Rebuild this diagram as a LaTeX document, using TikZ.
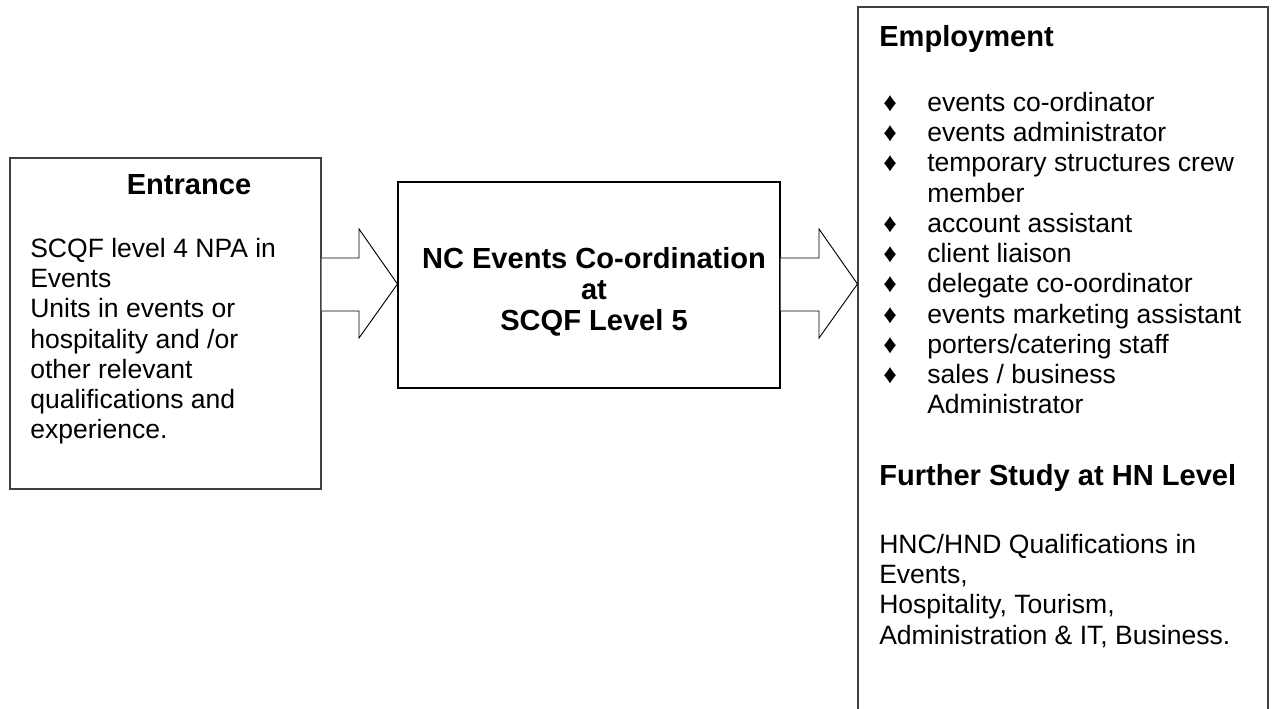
\documentclass[tikz,border=0pt]{standalone}
\usepackage{fontspec}
\setmainfont{Liberation Sans}
\usetikzlibrary{fit}
% strut that fixes the top of a text block 18pt above its first baseline
\newcommand\lnstrut{\rule{0pt}{18pt}}
\newcommand\bul{\makebox[33pt][l]{♦}}
\newcommand\ind{\hspace*{33pt}}
\tikzset{
  boxline/.style={draw=black!75, line width=0.8pt, inner sep=0pt, fill=none},
  midline/.style={draw=black, line width=0.8pt, inner sep=0pt},
  blockarrow/.style={draw=black, line width=0.7pt, line join=miter, fill=white},
  headtext/.style={inner sep=0pt, font=\fontsize{21.8pt}{23.2pt}\selectfont\bfseries},
  bodytext/.style={inner sep=0pt, align=left, font=\fontsize{19.9pt}{22.7pt}\selectfont},
}
\begin{document}
\begin{tikzpicture}[x=0.75pt, y=-0.75pt]
\useasboundingbox (0,0) rectangle (1275,709);
\clip (0,0) rectangle (1275,709);

% corners of the three boxes
\coordinate (e1) at (10,158);  \coordinate (e2) at (321,489);
\coordinate (m1) at (398,182); \coordinate (m2) at (780,388);
\coordinate (r1) at (858,7);   \coordinate (r2) at (1268,720);

\node[boxline, fit=(e1)(e2)] (entry) {};
\node[midline, fit=(m1)(m2)] (course) {};
\node[boxline, fit=(r1)(r2)] (outcome) {};

% levels of the block arrows
\coordinate (shafttop) at (0,258);
\coordinate (shaftbot) at (0,311);
\coordinate (headtop)  at (0,229);
\coordinate (headbot)  at (0,338);
\coordinate (tipline)  at (0,284);
\coordinate (neckL) at (359,0);
\coordinate (neckR) at (819,0);

% block arrow: Entrance -> course
\draw[blockarrow] (entry.east |- shafttop) -- (neckL |- shafttop) -- (neckL |- headtop)
  -- (course.west |- tipline) -- (neckL |- headbot) -- (neckL |- shaftbot)
  -- (entry.east |- shaftbot);
% block arrow: course -> outcomes
\draw[blockarrow] (course.east |- shafttop) -- (neckR |- shafttop) -- (neckR |- headtop)
  -- (outcome.west |- tipline) -- (neckR |- headbot) -- (neckR |- shaftbot)
  -- (course.east |- shaftbot);

% Entrance box
\node[headtext, anchor=base] (entryhead) at (189,195) {Entrance};
\node[bodytext, anchor=north west] (entrybody) at (30,233) {\lnstrut SCQF level 4 NPA in\\
Events\\
Units in events or\\
hospitality and /or\\
other relevant\\
qualifications and\\
experience.};

% course box
\node[headtext, align=center, anchor=north] (coursename) at (594,244)
  {\lnstrut NC Events Co-ordination\\ at\\ SCQF Level 5};

% outcomes box
\node[headtext, anchor=base west] (emphead) at (879,47) {Employment};
\node[bodytext, anchor=north west] (emplist) at (883,87) {\lnstrut\bul events co-ordinator\\
\bul events administrator\\
\bul temporary structures crew\\
\ind member\\
\bul account assistant\\
\bul client liaison\\
\bul delegate co-oordinator\\
\bul events marketing assistant\\
\bul porters/catering staff\\
\bul sales / business\\
\ind Administrator};
\node[headtext, anchor=base west] (studyhead) at (879,485) {Further Study at HN Level};
\node[bodytext, anchor=north west] (studybody) at (879,529) {\lnstrut HNC/HND Qualifications in\\
Events,\\
Hospitality, Tourism,\\
Administration \& IT, Business.};
\end{tikzpicture}
\end{document}
